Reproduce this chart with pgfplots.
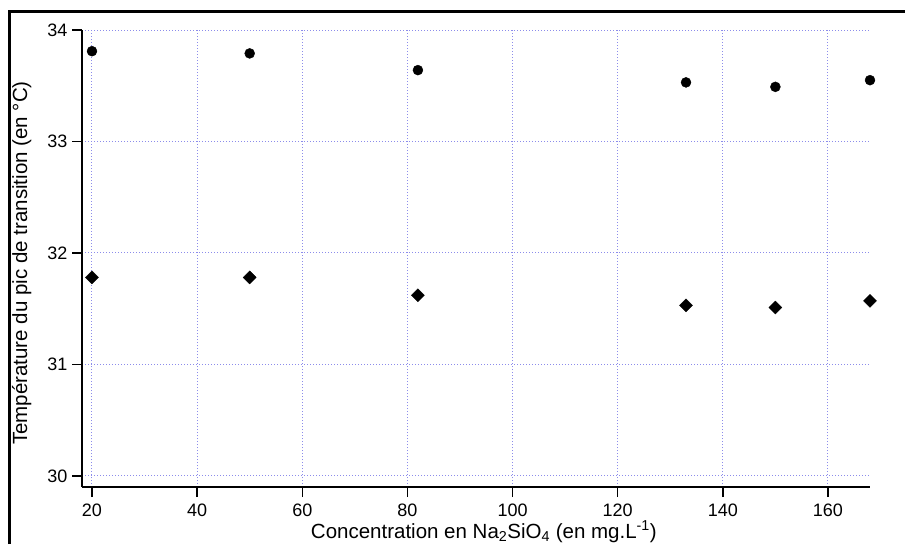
\documentclass[border=0pt]{standalone}
\usepackage{pgfplots}
\pgfplotsset{compat=1.18}
\usepackage{fontspec}
\setmainfont{Liberation Sans}
\definecolor{gridc}{rgb}{0.55,0.55,0.92}
\begin{document}
\begin{tikzpicture}[x=1pt,y=1pt]
\useasboundingbox (0,0) rectangle (905,544);
\draw[line width=3pt] (9,0) -- (9,532) -- (906,532);
\begin{axis}[
  at={(82pt,57pt)}, anchor=south west,
  scale only axis, width=788pt, height=457pt,
  xmin=18.1, xmax=168, ymin=29.9, ymax=34,
  axis x line*=bottom, axis y line*=left,
  axis line style={line width=1.4pt},
  xtick={20,40,...,160}, ytick={30,31,32,33,34},
  tick align=outside, major tick length=10pt,
  tick style={black, line width=1.4pt},
  grid=major, grid style={gridc, line width=1pt, dash pattern=on 1pt off 2pt},
  /pgf/number format/assume math mode=true,
  ticklabel style={font=\fontsize{18}{18}\selectfont},
  xticklabel style={yshift=-3pt},
  yticklabel style={xshift=-1pt},
  xlabel={Concentration en Na\textsubscript{2}SiO\textsubscript{4} (en mg.L\textsuperscript{-1})},
  ylabel={Température du pic de transition (en °C)},
  label style={font=\fontsize{20.5}{22}\selectfont},
  xlabel style={at={(axis description cs:0.51,-0.1125)}, anchor=base},
  ylabel style={at={(axis description cs:-0.0698,0.49)}, anchor=base},
  clip=false,
]
\addplot[only marks, mark=*, mark size=5pt, black] coordinates {
  (20,33.81) (50,33.79) (82,33.64) (133,33.53) (150,33.49) (168,33.55)
};
\addplot[only marks, mark=square*, mark size=4.6pt, mark options={rotate=45}, black] coordinates {
  (20,31.78) (50,31.78) (82,31.62) (133,31.53) (150,31.51) (168,31.57)
};
\end{axis}
\end{tikzpicture}
\end{document}
